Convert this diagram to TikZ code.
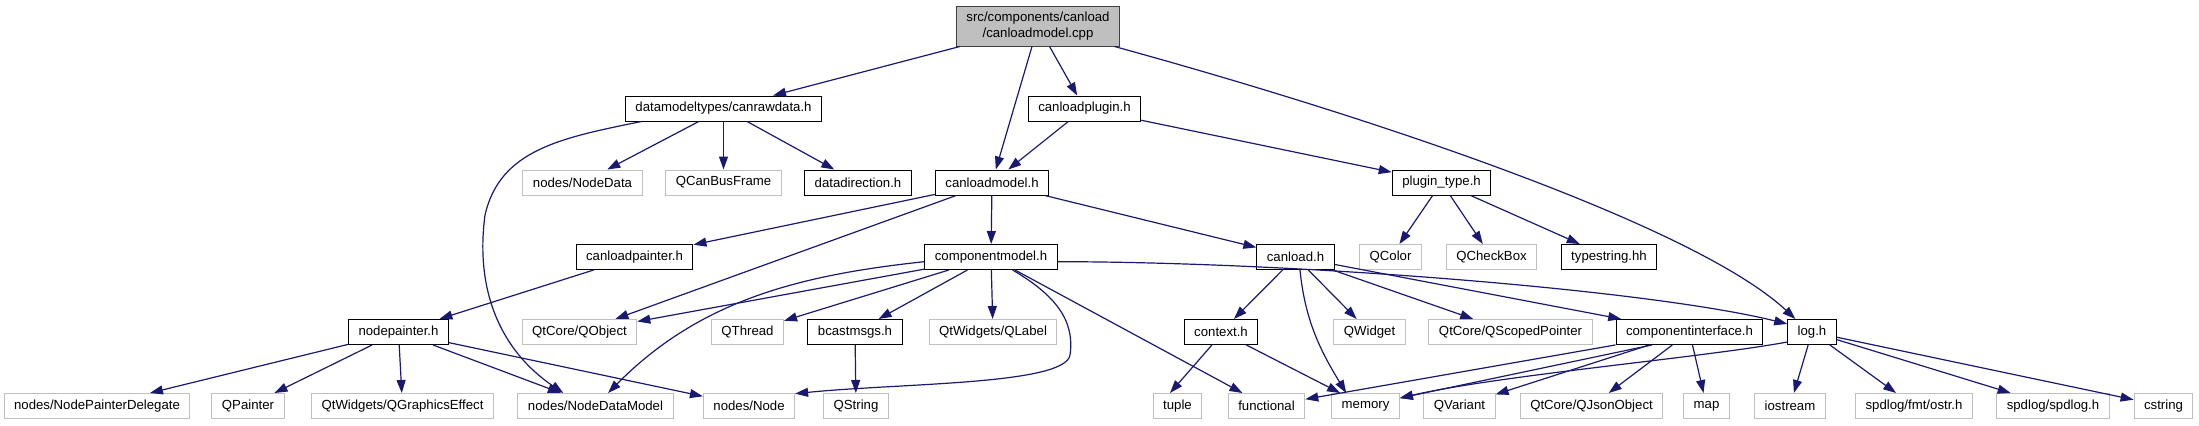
\documentclass[tikz,border=0pt]{standalone}
\usepackage{fontspec}
\setmainfont{Liberation Sans}
\usetikzlibrary{arrows.meta}
\definecolor{EdgeBlue}{HTML}{191970}
\definecolor{ExtGray}{HTML}{BFBFBF}
\definecolor{RootFill}{HTML}{BFBFBF}
\definecolor{RootLine}{HTML}{404040}

\begin{document}
\begin{tikzpicture}[
  x=0.5pt, y=-0.5pt,
  font=\fontsize{6.6}{8}\selectfont,
  box/.style={rectangle, inner xsep=5pt, inner ysep=0pt,
    minimum height=12.5pt, line width=0.5pt},
  docbox/.style={box, draw=black},
  extbox/.style={box, draw=ExtGray},
  rootbox/.style={box, draw=RootLine, fill=RootFill, minimum height=20pt,
    align=center},
  dep/.style={-{Triangle[length=6.5pt, width=4.5pt]}, line width=0.6pt,
    color=EdgeBlue}
]
\useasboundingbox (0,0) rectangle (2199,425);

% Files
\node[rootbox] (root) at (1038,26) {src/components/canload\\/canloadmodel.cpp};

\node[docbox] (canrawdata) at (723.5,108.5) {datamodeltypes/canrawdata.h};
\node[docbox] (canloadplugin) at (1084.5,108.5) {canloadplugin.h};

\node[extbox] (nodedata) at (582.5,182.5) {nodes/NodeData};
\node[extbox] (canbusframe) at (723.5,182.5) {QCanBusFrame};
\node[docbox] (datadirection) at (858,182.5) {datadirection.h};
\node[docbox] (canloadmodel) at (992,182.5) {canloadmodel.h};
\node[docbox] (plugintype) at (1441.5,182.5) {plugin\_type.h};

\node[docbox] (canloadpainter) at (634.5,257) {canloadpainter.h};
\node[docbox] (componentmodel) at (991,257) {componentmodel.h};
\node[docbox] (canload) at (1295.5,257) {canload.h};
\node[extbox] (qcolor) at (1390.5,257) {QColor};
\node[extbox] (qcheckbox) at (1491.5,257) {QCheckBox};
\node[docbox] (typestring) at (1609,257) {typestring.hh};

\node[docbox] (nodepainter) at (398.5,332) {nodepainter.h};
\node[extbox] (qobject) at (579.5,332) {QtCore/QObject};
\node[extbox] (qthread) at (747.5,332) {QThread};
\node[docbox] (bcastmsgs) at (855,332) {bcastmsgs.h};
\node[extbox] (qlabel) at (993,332) {QtWidgets/QLabel};
\node[docbox] (context) at (1221,332) {context.h};
\node[extbox] (qwidget) at (1369.5,332) {QWidget};
\node[extbox] (qscopedptr) at (1510.5,332) {QtCore/QScopedPointer};
\node[docbox] (compiface) at (1689.5,332) {componentinterface.h};
\node[docbox] (logh) at (1812,332) {log.h};

\node[extbox] (delegate) at (97,406) {nodes/NodePainterDelegate};
\node[extbox] (qpainter) at (248,406) {QPainter};
\node[extbox] (qgfxeffect) at (402.5,406) {QtWidgets/QGraphicsEffect};
\node[extbox] (nodedatamodel) at (595.5,406) {nodes/NodeDataModel};
\node[extbox] (nodesnode) at (749,406) {nodes/Node};
\node[extbox] (qstring) at (856,406) {QString};
\node[extbox] (tuple) at (1177.5,406) {tuple};
\node[extbox] (functional) at (1266.5,406) {functional};
\node[extbox] (memory) at (1365.5,406) {memory};
\node[extbox] (qvariant) at (1459.5,406) {QVariant};
\node[extbox] (qjsonobject) at (1591.5,406) {QtCore/QJsonObject};
\node[extbox] (map) at (1706.5,406) {map};
\node[extbox] (iostream) at (1790,406) {iostream};
\node[extbox] (fmtostr) at (1914,406) {spdlog/fmt/ostr.h};
\node[extbox] (spdlog) at (2053,406) {spdlog/spdlog.h};
\node[extbox] (cstring) at (2163.5,406) {cstring};

% Arrows
\draw[dep] (root) -- (canrawdata);
\draw[dep] (root) -- (canloadmodel);
\draw[dep] (root) -- (canloadplugin);
\draw[dep] (root.-15) .. controls (1400,125) and (1700,230) .. (logh.142);

\draw[dep] (canrawdata.189) .. controls (560,138) and (500,150) .. (485,215)
  .. controls (475,290) and (500,350) .. (nodedatamodel.158);
\draw[dep] (canrawdata) -- (nodedata);
\draw[dep] (canrawdata) -- (canbusframe);
\draw[dep] (canrawdata) -- (datadirection);

\draw[dep] (canloadplugin) -- (canloadmodel);
\draw[dep] (canloadplugin) -- (plugintype);

\draw[dep] (canloadmodel) -- (canloadpainter);
\draw[dep] (canloadmodel) -- (qobject);
\draw[dep] (canloadmodel) -- (componentmodel);
\draw[dep] (canloadmodel) -- (canload);

\draw[dep] (plugintype) -- (qcolor);
\draw[dep] (plugintype) -- (qcheckbox);
\draw[dep] (plugintype) -- (typestring);

\draw[dep] (canloadpainter) -- (nodepainter);

\draw[dep] (componentmodel) -- (qobject);
\draw[dep] (componentmodel.184) .. controls (800,275) and (700,300) .. (nodedatamodel.46);
\draw[dep] (componentmodel) -- (qthread);
\draw[dep] (componentmodel) -- (bcastmsgs);
\draw[dep] (componentmodel) -- (qlabel);
\draw[dep] (componentmodel.-31) .. controls (1055,295) and (1075,320) .. (1070,355)
  .. controls (1065,385) and (900,383) .. (nodesnode.15);
\draw[dep] (componentmodel) -- (functional);
\draw[dep] (componentmodel.-4) .. controls (1300,262) and (1650,290) .. (logh.162);

\draw[dep] (canload) -- (context);
\draw[dep] (canload.-71) .. controls (1305,320) and (1320,350) .. (memory.146);
\draw[dep] (canload) -- (qwidget);
\draw[dep] (canload) -- (qscopedptr);
\draw[dep] (canload) -- (compiface);

\draw[dep] (nodepainter) -- (delegate);
\draw[dep] (nodepainter) -- (qpainter);
\draw[dep] (nodepainter) -- (qgfxeffect);
\draw[dep] (nodepainter) -- (nodedatamodel);
\draw[dep] (nodepainter) -- (nodesnode);

\draw[dep] (bcastmsgs) -- (qstring);

\draw[dep] (context.235) -- (tuple.120);
\draw[dep] (context) -- (memory);

\draw[dep] (compiface) -- (functional);
\draw[dep] (compiface.199) -- (memory.13);
\draw[dep] (compiface) -- (qvariant);
\draw[dep] (compiface) -- (qjsonobject);
\draw[dep] (compiface) -- (map);

\draw[dep] (logh.202) .. controls (1700,358) and (1500,375) .. (memory.13);
\draw[dep] (logh) -- (iostream);
\draw[dep] (logh) -- (fmtostr);
\draw[dep] (logh) -- (spdlog);
\draw[dep] (logh) -- (cstring);

\end{tikzpicture}
\end{document}
